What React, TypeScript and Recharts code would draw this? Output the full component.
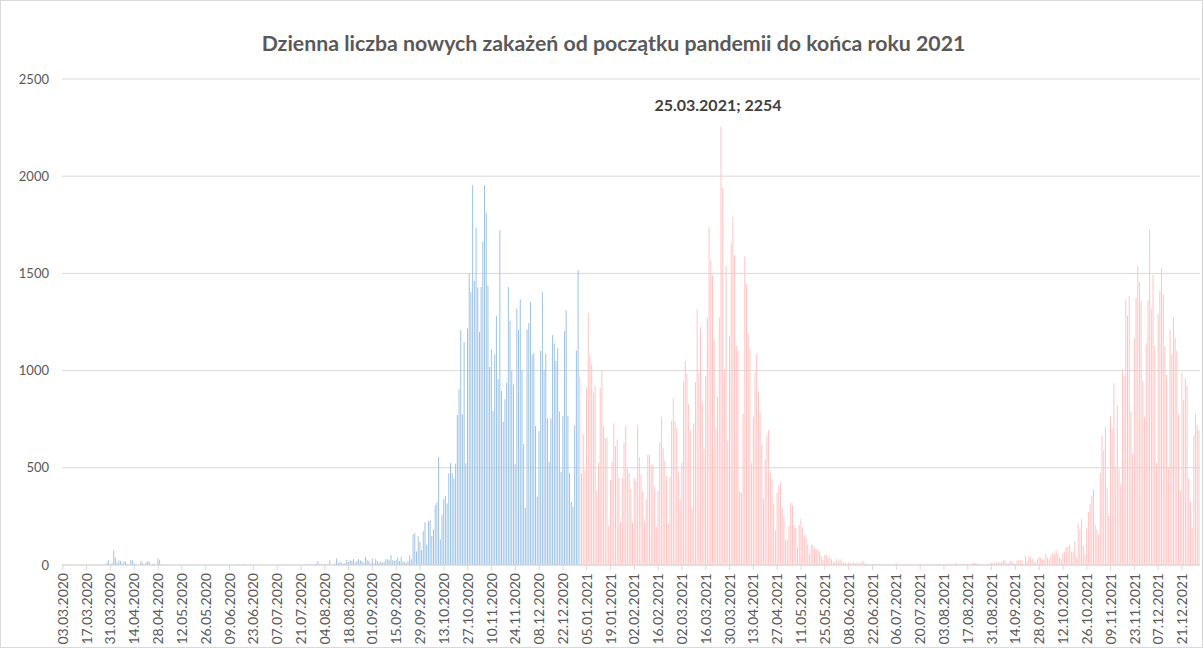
import React from "react";
import { BarChart, Bar, XAxis, YAxis, CartesianGrid, Cell } from "recharts";

// daily new cases, 03.03.2020 - 31.12.2021 (one array per month)
const mar2020 = [0, 0, 0, 0, 0, 0, 0, 0, 0, 0, 0, 0, 0, 0, 0, 0, 0, 0, 0, 0, 0, 0, 0, 0, 0, 0, 12, 24, 5];
const apr2020 = [8, 75, 38, 12, 24, 20, 8, 19, 17, 5, 0, 24, 24, 8, 3, 0, 0, 20, 10, 0, 12, 20, 15, 0, 6, 6, 0, 34, 24, 0];
const may2020 = [0, 0, 2, 0, 0, 0, 0, 0, 0, 0, 0, 0, 0, 0, 0, 0, 0, 0, 0, 0, 0, 0, 0, 0, 0, 0, 0, 0, 0, 0, 0];
const jun2020 = [0, 0, 0, 0, 0, 0, 0, 0, 0, 0, 0, 0, 0, 5, 0, 0, 0, 5, 0, 0, 0, 0, 0, 0, 0, 0, 0, 0, 0, 0];
const jul2020 = [0, 0, 0, 0, 0, 0, 0, 0, 0, 0, 0, 0, 0, 0, 0, 0, 0, 0, 0, 0, 0, 0, 5, 0, 5, 0, 0, 0, 5, 8, 20];
const aug2020 = [5, 5, 0, 0, 3, 0, 24, 0, 2, 8, 34, 12, 15, 10, 5, 10, 27, 15, 25, 20, 31, 12, 20, 29, 25, 20, 12, 41, 25, 20, 8];
const sep2020 = [34, 10, 29, 20, 10, 17, 12, 15, 29, 29, 25, 51, 24, 22, 24, 38, 20, 41, 18, 15, 12, 20, 51, 30, 158, 163, 69, 149, 120, 77];
const oct2020 = [175, 218, 106, 226, 230, 149, 183, 309, 321, 556, 132, 257, 338, 355, 317, 472, 523, 472, 446, 521, 772, 904, 1207, 775, 1147, 523, 1216, 1500, 1404, 1953, 1461];
const nov2020 = [1735, 1427, 1200, 1430, 1663, 1955, 1812, 1439, 1018, 1109, 792, 1084, 1281, 955, 1722, 895, 737, 852, 938, 1430, 1255, 998, 929, 518, 1320, 1209, 1367, 1003, 621, 295];
const dec2020 = [1212, 1243, 1353, 1080, 1092, 715, 352, 689, 1101, 1404, 1003, 1087, 754, 532, 753, 1183, 1140, 1049, 1115, 789, 480, 766, 1204, 1310, 766, 472, 326, 300, 720, 1104, 1516];

const jan2021 = [967, 472, 672, 487, 912, 1298, 1079, 1032, 886, 921, 384, 526, 912, 998, 712, 652, 655, 201, 437, 532, 729, 612, 643, 446, 221, 449, 629, 715, 497, 475, 394];
const feb2021 = [218, 449, 432, 720, 556, 466, 381, 226, 338, 566, 566, 514, 518, 401, 197, 381, 629, 761, 600, 535, 458, 214, 453, 741, 857, 741, 706, 480];
const mar2021 = [338, 526, 947, 1049, 981, 830, 693, 295, 729, 941, 1315, 989, 1224, 844, 595, 972, 1272, 1735, 1567, 1490, 1156, 703, 864, 1272, 2254, 1941, 1001, 1538, 641, 1178, 1658];
const apr2021 = [1790, 1595, 1127, 1101, 381, 372, 778, 1586, 1444, 1192, 1113, 526, 761, 993, 1084, 892, 784, 624, 341, 544, 664, 694, 475, 441, 312, 178, 372, 411, 424, 298];
const may2021 = [247, 127, 129, 201, 321, 307, 206, 192, 93, 206, 235, 195, 154, 141, 106, 55, 106, 103, 89, 81, 81, 69, 46, 24, 51, 51, 34, 41, 29, 17, 17];
const jun2021 = [29, 17, 29, 21, 10, 14, 8, 14, 10, 6, 14, 8, 14, 6, 10, 20, 15, 8, 5, 4, 3, 3, 4, 2, 3, 2, 3, 2, 2, 3];
const jul2021 = [2, 1, 2, 3, 2, 10, 2, 5, 1, 2, 1, 2, 3, 5, 2, 1, 1, 2, 1, 2, 3, 2, 1, 2, 3, 2, 1, 5, 2, 3, 2];
const aug2021 = [3, 2, 5, 2, 3, 2, 3, 2, 3, 10, 3, 2, 5, 3, 5, 2, 5, 3, 2, 10, 12, 10, 3, 5, 3, 5, 3, 4, 5, 6, 12];
const sep2021 = [10, 15, 12, 15, 10, 15, 24, 24, 12, 8, 21, 21, 12, 8, 24, 24, 24, 24, 7, 46, 21, 46, 38, 34, 17, 17, 29, 41, 38, 29];
const oct2021 = [29, 60, 38, 29, 46, 63, 58, 77, 60, 38, 29, 63, 69, 93, 93, 106, 69, 69, 123, 40, 214, 183, 235, 98, 55, 192, 273, 312, 355, 389, 206];
const nov2021 = [182, 158, 475, 664, 590, 710, 398, 252, 766, 703, 933, 501, 823, 492, 415, 1007, 972, 1363, 1283, 1384, 789, 574, 1166, 1375, 1538, 1456, 1361, 947, 761, 1139];
const dec2021 = [1361, 1727, 1320, 1492, 1127, 526, 1293, 1409, 1526, 1392, 1127, 977, 501, 1212, 1084, 1272, 1166, 1101, 775, 384, 989, 847, 960, 921, 446, 326, 189, 669, 775, 720, 693];

const values2020 = [mar2020, apr2020, may2020, jun2020, jul2020, aug2020, sep2020, oct2020, nov2020, dec2020].flat();
const values2021 = [jan2021, feb2021, mar2021, apr2021, may2021, jun2021, jul2021, aug2021, sep2021, oct2021, nov2021, dec2021].flat();

const yTicks = [0, 500, 1000, 1500, 2000, 2500];
const title = "Dzienna liczba nowych zakażeń od początku pandemii do końca roku 2021";

const fmt = (d: Date) =>
  `${String(d.getDate()).padStart(2, "0")}.${String(d.getMonth() + 1).padStart(2, "0")}.${d.getFullYear()}`;

const data = [...values2020, ...values2021].map((v, i) => {
  const d = new Date(2020, 2, 3 + i);
  return { date: fmt(d), cases: v, year: d.getFullYear() };
});

// highest day gets the data label
let peak = data[0];
data.forEach((d) => {
  if (d.cases > peak.cases) peak = d;
});

const FONT = "Lato, 'Open Sans', sans-serif";

const XTick = (props: any) => {
  const { x, y, payload } = props;
  return (
    <text
      transform={`translate(${x + 5},${y}) rotate(-90)`}
      textAnchor="end"
      fontSize={14}
      fill="#595959"
      fontFamily={FONT}
    >
      {payload.value}
    </text>
  );
};

const PeakLabel = (props: any) => {
  const { x, y, width, value } = props;
  if (value !== peak.cases) return null;
  return (
    <text
      x={x + width / 2 - 3}
      y={y - 16}
      textAnchor="middle"
      fontSize={16}
      fontWeight="bold"
      fill="#404040"
      fontFamily={FONT}
    >
      {`${peak.date}; ${peak.cases}`}
    </text>
  );
};

const App = () => {
  return (
    <div
      style={{
        position: "absolute",
        left: 0,
        top: 0,
        width: 1203,
        height: 648,
        background: "#fff",
        border: "1px solid #d9d9d9",
        boxSizing: "border-box",
        overflow: "hidden",
        fontFamily: FONT,
      }}
    >
      <div
        style={{
          position: "absolute",
          top: 29,
          left: 11,
          width: 1203,
          textAlign: "center",
          fontSize: 21.3,
          fontWeight: "bold",
          color: "#595959",
        }}
      >
        {title}
      </div>
      <BarChart
        width={1203}
        height={648}
        data={data}
        margin={{ top: 78, right: 4, bottom: 0, left: 0 }}
        barCategoryGap="10%"
      >
        <CartesianGrid vertical={false} stroke="#d9d9d9" />
        <XAxis
          dataKey="date"
          interval={13}
          height={84}
          stroke="#d9d9d9"
          tickSize={5}
          tickMargin={3}
          tick={<XTick />}
        />
        <YAxis
          width={61}
          domain={[0, 2500]}
          ticks={yTicks}
          axisLine={false}
          tickLine={false}
          tickMargin={7}
          tick={{ fontSize: 13, fill: "#595959", fontFamily: FONT }}
        />
        <Bar dataKey="cases" isAnimationActive={false} label={<PeakLabel />}>
          {data.map((d, i) => (
            <Cell key={i} fill={d.year === 2020 ? "#9DC3E6" : "#FFC4C4"} />
          ))}
        </Bar>
      </BarChart>
    </div>
  );
};

export default App;
